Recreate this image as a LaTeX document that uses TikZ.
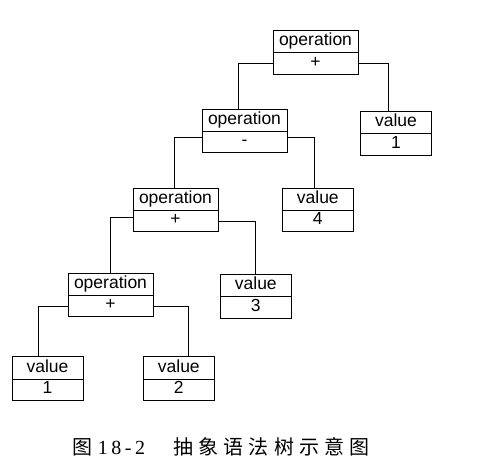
\documentclass[tikz,border=0pt]{standalone}
\usepackage{fontspec}
\setmainfont{Liberation Sans}
\newfontfamily\cjkfont[LetterSpace=26]{Noto Sans CJK SC}
\newfontfamily\capfont[LetterSpace=18]{Liberation Serif}
\usetikzlibrary{shapes.multipart,calc}
\newcommand{\boxstrut}{\rule[-4.3pt]{0pt}{16.3pt}}
\begin{document}
\begin{tikzpicture}[x=1pt,y=-1pt,
    opbox/.style={rectangle split,rectangle split parts=2,draw,line width=0.8pt,
        minimum width=85pt,inner xsep=0pt,inner ysep=2.2pt,
        font=\fontsize{17.5}{20}\selectfont},
    valbox/.style={opbox,minimum width=71pt},
    link/.style={line width=0.8pt}]
\useasboundingbox (0,0) rectangle (486,472);
% tree nodes
\node[opbox] (op1) at (315.5,52.5) {\boxstrut operation\nodepart{two}\boxstrut+};
\node[opbox] (op2) at (244.5,131) {\boxstrut operation\nodepart{two}\boxstrut-};
\node[opbox] (op3) at (175.5,210) {\boxstrut operation\nodepart{two}\boxstrut+};
\node[opbox] (op4) at (110.5,295) {\boxstrut operation\nodepart{two}\boxstrut+};
\node[valbox] (v1) at (396,133.3) {\boxstrut value\nodepart{two}\boxstrut 1};
\node[valbox] (v4) at (317.8,210) {\boxstrut value\nodepart{two}\boxstrut 4};
\node[valbox] (v3) at (255.8,296) {\boxstrut value\nodepart{two}\boxstrut 3};
\node[valbox] (leafa) at (47.5,378.7) {\boxstrut value\nodepart{two}\boxstrut 1};
\node[valbox] (leafb) at (178.8,378.7) {\boxstrut value\nodepart{two}\boxstrut 2};
% connectors
\draw[link] ($(op1.text split west)!.5!(op1.south west)$) -| ([xshift=-6.5pt]op2.north);
\draw[link] ($(op1.text split east)!.5!(op1.south east)$) -| ([xshift=-8pt]v1.north);
\draw[link] ($(op2.text split west)!.28!(op2.south west)$) -| ([xshift=-1pt]op3.north);
\draw[link] ($(op2.text split east)!.28!(op2.south east)$) -| ([xshift=-3pt]v4.north);
\draw[link] ($(op3.text split west)!.32!(op3.south west)$) -| (op4.north);
\draw[link] ($(op3.text split east)!.5!(op3.south east)$) -| (v3.north);
\draw[link] ($(op4.text split west)!.5!(op4.south west)$) -| ([xshift=-9pt]leafa.north);
\draw[link] ($(op4.text split east)!.5!(op4.south east)$) -| ([xshift=9.5pt]leafb.north);
% caption
\node[anchor=west,inner sep=0pt,font=\fontsize{20}{24}\selectfont] (caption) at (72,447)
    {{\cjkfont 图} {\capfont 18-2}\hspace{1.4em}{\cjkfont 抽象语法树示意图}};
\end{tikzpicture}
\end{document}
